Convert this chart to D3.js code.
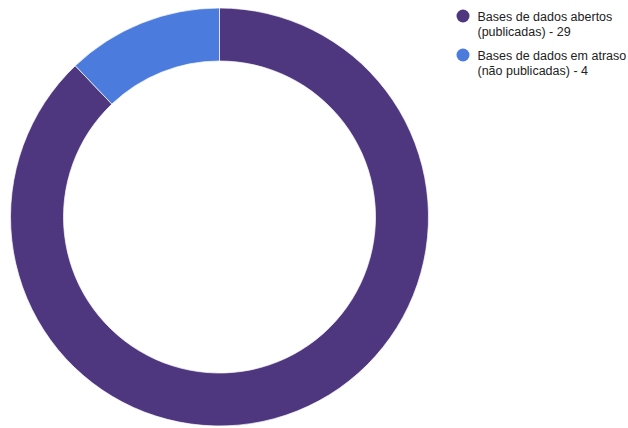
<!DOCTYPE html>
<html>
<head>
<meta charset="utf-8">
<script src="https://cdn.jsdelivr.net/npm/d3@7"></script>
<style>
  body { margin: 0; background: #fff; }
  text { font-family: "Liberation Sans", Arial, sans-serif; }
</style>
</head>
<body>
<svg width="628" height="428"></svg>
<script>
const labels = [['Bases de dados abertos', '(publicadas) - 29'], ['Bases de dados em atraso', '(não publicadas) - 4']]
const values = [29, 4]
const colors = ['#4f3780', '#4b7bdc']

const svg = d3.select('svg')
const cx = 219.5
const cy = 217
const outer = 209
const inner = 156

const pie = d3.pie().sort(null)(values)
const arc = d3.arc().innerRadius(inner).outerRadius(outer)

const g = svg.append('g').attr('transform', 'translate(' + cx + ',' + cy + ')')

g.selectAll('path')
  .data(pie)
  .enter().append('path')
  .attr('d', arc)
  .attr('fill', (d, i) => colors[i])
  .attr('stroke', '#fff')
  .attr('stroke-width', 0.7)

const legend = svg.selectAll('.legend')
  .data(labels)
  .enter().append('g')
  .attr('class', 'legend')
  .attr('transform', (d, i) => 'translate(463,' + (16 + i * 39) + ')')

legend.append('circle')
  .attr('r', 6.5)
  .attr('fill', (d, i) => colors[i])

legend.each(function (d) {
  const t = d3.select(this).append('text')
    .attr('x', 14.5)
    .attr('y', 4.5)
    .attr('font-size', 12.5)
    .attr('fill', '#222')
  d.forEach((line, j) => {
    t.append('tspan').attr('x', 14.5).attr('dy', j === 0 ? 0 : 15).text(line)
  })
})
</script>
</body>
</html>
